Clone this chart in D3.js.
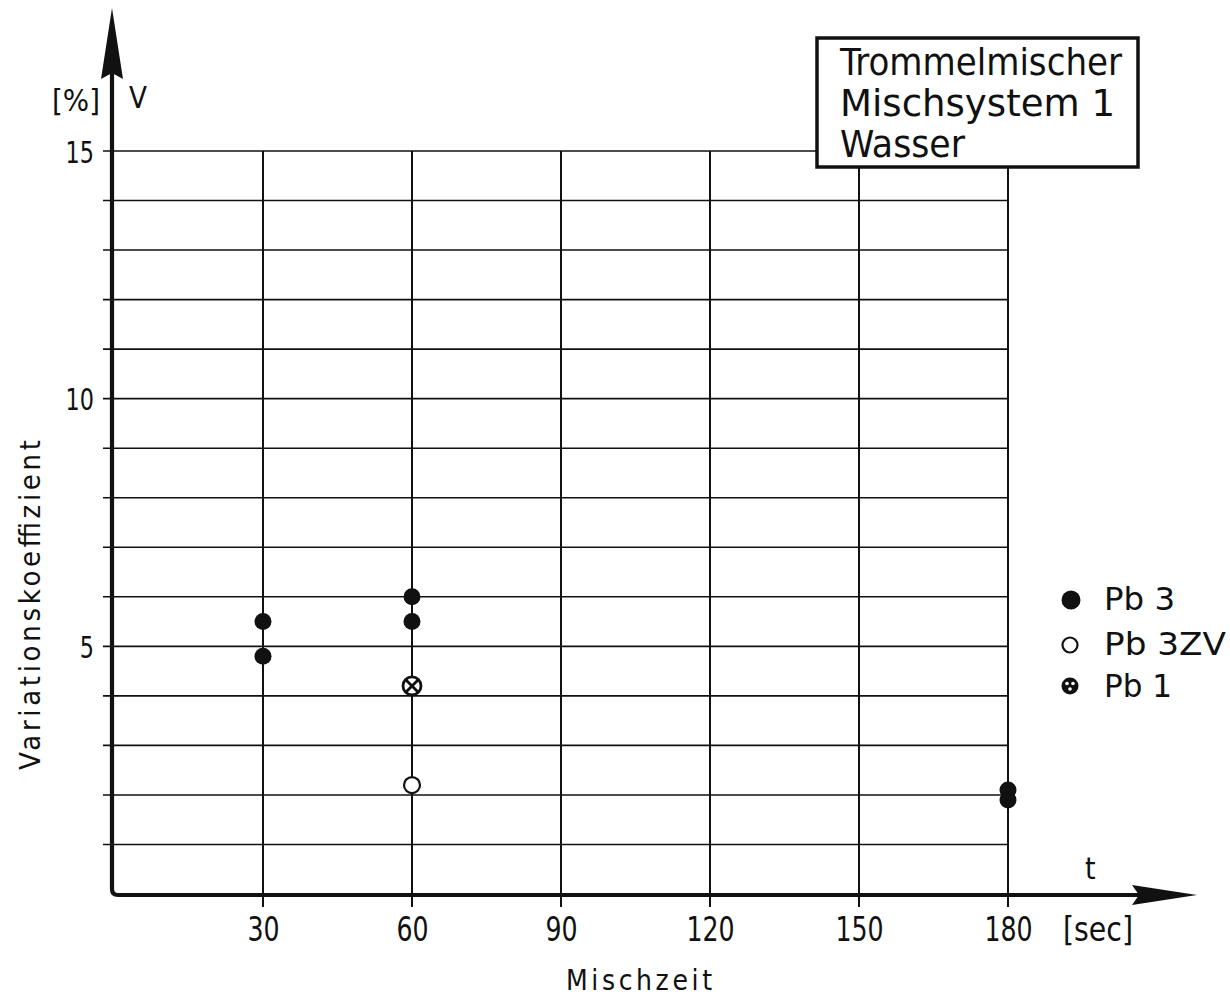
<!DOCTYPE html>
<html>
<head>
<meta charset="utf-8">
<script src="https://cdn.jsdelivr.net/npm/d3@7/dist/d3.min.js"></script>
<style>
  html, body { margin: 0; padding: 0; background: #fff; }
  svg { display: block; }
  text { font-family: "DejaVu Sans Condensed", "Liberation Sans Narrow", "DejaVu Sans", sans-serif; font-stretch: condensed; fill: #111; }
</style>
</head>
<body>
<svg id="chart" width="1230" height="999"></svg>
<script>
// ---- data ----
const xTickValues = [30, 60, 90, 120, 150, 180];
const yTickValues = [5, 10, 15];
const yGridValues = [1, 2, 3, 4, 5, 6, 7, 8, 9, 10, 11, 12, 13, 14, 15];
const pb3 = [ {t: 30, v: 5.5}, {t: 30, v: 4.8}, {t: 60, v: 6.0}, {t: 60, v: 5.5}, {t: 180, v: 2.1}, {t: 180, v: 1.9} ];
const pb3zv = [ {t: 60, v: 2.2} ];
const pb1 = [ {t: 60, v: 4.2} ];
const titleLines = ["Trommelmischer", "Mischsystem  1", "Wasser"];
const legendItems = [ {label: "Pb 3", kind: "filled"}, {label: "Pb 3ZV", kind: "open"}, {label: "Pb 1", kind: "cross"} ];

// ---- layout ----
const ink = "#111";
const svg = d3.select("#chart");
const x = d3.scaleLinear().domain([0, 180]).range([114, 1008]);
const y = d3.scaleLinear().domain([0, 15]).range([894, 151]);
const axisX = 112, axisY = 895;

// horizontal gridlines
svg.append("g").selectAll("line").data(yGridValues).join("line")
  .attr("x1", axisX - 9).attr("x2", x(180))
  .attr("y1", d => y(d)).attr("y2", d => y(d))
  .attr("stroke", ink).attr("stroke-width", 1.6);

// vertical gridlines
svg.append("g").selectAll("line").data(xTickValues).join("line")
  .attr("x1", d => x(d)).attr("x2", d => x(d))
  .attr("y1", y(15)).attr("y2", axisY + 12)
  .attr("stroke", ink).attr("stroke-width", 2);

// axes lines with rounded corner
svg.append("path")
  .attr("d", `M${axisX},70 L${axisX},${axisY - 6} Q${axisX},${axisY} ${axisX + 6},${axisY} L1140,${axisY}`)
  .attr("fill", "none").attr("stroke", ink).attr("stroke-width", 4.2);

// arrowheads
svg.append("path")
  .attr("d", `M${axisX},8 L${axisX + 11},79 L${axisX},73 L${axisX - 11},79 Z`)
  .attr("fill", ink);
svg.append("path")
  .attr("d", `M1197,${axisY} L1132,${axisY - 10} L1139,${axisY} L1132,${axisY + 10} Z`)
  .attr("fill", ink);

// y tick labels via axis
const yAxis = d3.axisLeft(y).tickValues(yTickValues).tickSize(0).tickPadding(0).tickFormat(d3.format("d"));
const gy = svg.append("g").attr("transform", `translate(${axisX - 18},0)`).call(yAxis);
gy.select(".domain").remove();
gy.selectAll("text").attr("font-size", 31).attr("fill", ink).attr("dy", "0.36em")
  .attr("transform", "scale(0.8,1)")
  .style("font-family", '"DejaVu Sans", sans-serif');

// x tick labels via axis
const xAxis = d3.axisBottom(x).tickValues(xTickValues).tickSize(0).tickPadding(0).tickFormat(d3.format("d"));
const gx = svg.append("g").attr("transform", `translate(0,${axisY + 22})`).call(xAxis);
gx.select(".domain").remove();
gx.selectAll("text").attr("font-size", 33).attr("fill", ink).attr("dy", "0.72em")
  .attr("transform", "scale(0.85,1)")
  .style("font-family", '"DejaVu Sans", sans-serif');

// axis unit labels
svg.append("text").attr("x", 52).attr("y", 111).attr("font-size", 31).attr("textLength", 48).attr("lengthAdjust", "spacingAndGlyphs").text("[%]");
svg.append("text").attr("x", 129).attr("y", 108).attr("font-size", 30).attr("textLength", 18).attr("lengthAdjust", "spacingAndGlyphs").text("V");
svg.append("text").attr("x", 1085).attr("y", 879).attr("font-size", 30).text("t");
svg.append("text").attr("x", 1063).attr("y", 941).attr("font-size", 33).attr("textLength", 70).attr("lengthAdjust", "spacingAndGlyphs").text("[sec]");

// axis titles
svg.append("text").attr("x", 566).attr("y", 990).attr("font-size", 28)
  .attr("textLength", 146).attr("lengthAdjust", "spacing").text("Mischzeit");
svg.append("text").attr("transform", "translate(40,770) rotate(-90)").attr("font-size", 29)
  .attr("textLength", 330).attr("lengthAdjust", "spacing").text("Variationskoeffizient");

// data markers
svg.append("g").selectAll("circle").data(pb3).join("circle")
  .attr("cx", d => x(d.t)).attr("cy", d => y(d.v)).attr("r", 8.5).attr("fill", ink);
svg.append("g").selectAll("circle").data(pb3zv).join("circle")
  .attr("cx", d => x(d.t)).attr("cy", d => y(d.v)).attr("r", 8).attr("fill", "#fff").attr("stroke", ink).attr("stroke-width", 2.2);
function crossMarker(g, cx, cy, r) {
  g.append("circle").attr("cx", cx).attr("cy", cy).attr("r", r).attr("fill", "#fff").attr("stroke", ink).attr("stroke-width", 2.8);
  const k = r * 0.72;
  g.append("line").attr("x1", cx - k).attr("y1", cy - k).attr("x2", cx + k).attr("y2", cy + k).attr("stroke", ink).attr("stroke-width", 2.8);
  g.append("line").attr("x1", cx - k).attr("y1", cy + k).attr("x2", cx + k).attr("y2", cy - k).attr("stroke", ink).attr("stroke-width", 2.8);
}
const gPb1 = svg.append("g");
pb1.forEach(d => crossMarker(gPb1, x(d.t), y(d.v), 9));

// title box
svg.append("rect").attr("x", 817).attr("y", 38).attr("width", 321).attr("height", 129)
  .attr("fill", "#fff").attr("stroke", ink).attr("stroke-width", 3.5);
const titleWidths = [282, 275, 125];
svg.append("g").selectAll("text").data(titleLines).join("text")
  .attr("x", 840).attr("y", (d, i) => 75 + i * 41).attr("font-size", 38)
  .attr("textLength", (d, i) => titleWidths[i]).attr("lengthAdjust", "spacingAndGlyphs")
  .text(d => d);

// legend
const legY = [600, 645, 686];
const legBase = [610, 655, 697];
const legWidths = [71, 122, 68];
const gl = svg.append("g");
legendItems.forEach((it, i) => {
  if (it.kind === "filled") gl.append("circle").attr("cx", 1071).attr("cy", legY[i]).attr("r", 9.5).attr("fill", ink);
  else if (it.kind === "open") gl.append("circle").attr("cx", 1070).attr("cy", legY[i]).attr("r", 7.5).attr("fill", "#fff").attr("stroke", ink).attr("stroke-width", 2.2);
  else {
    gl.append("circle").attr("cx", 1070).attr("cy", legY[i]).attr("r", 8.5).attr("fill", ink);
    gl.append("circle").attr("cx", 1067).attr("cy", legY[i] - 2.5).attr("r", 1.8).attr("fill", "#fff");
    gl.append("circle").attr("cx", 1073).attr("cy", legY[i] - 2.5).attr("r", 1.8).attr("fill", "#fff");
    gl.append("circle").attr("cx", 1070).attr("cy", legY[i] + 3).attr("r", 1.8).attr("fill", "#fff");
  }
  gl.append("text").attr("x", 1104).attr("y", legBase[i]).attr("font-size", 32)
    .attr("textLength", legWidths[i]).attr("lengthAdjust", "spacingAndGlyphs").text(it.label);
});
</script>
</body>
</html>
